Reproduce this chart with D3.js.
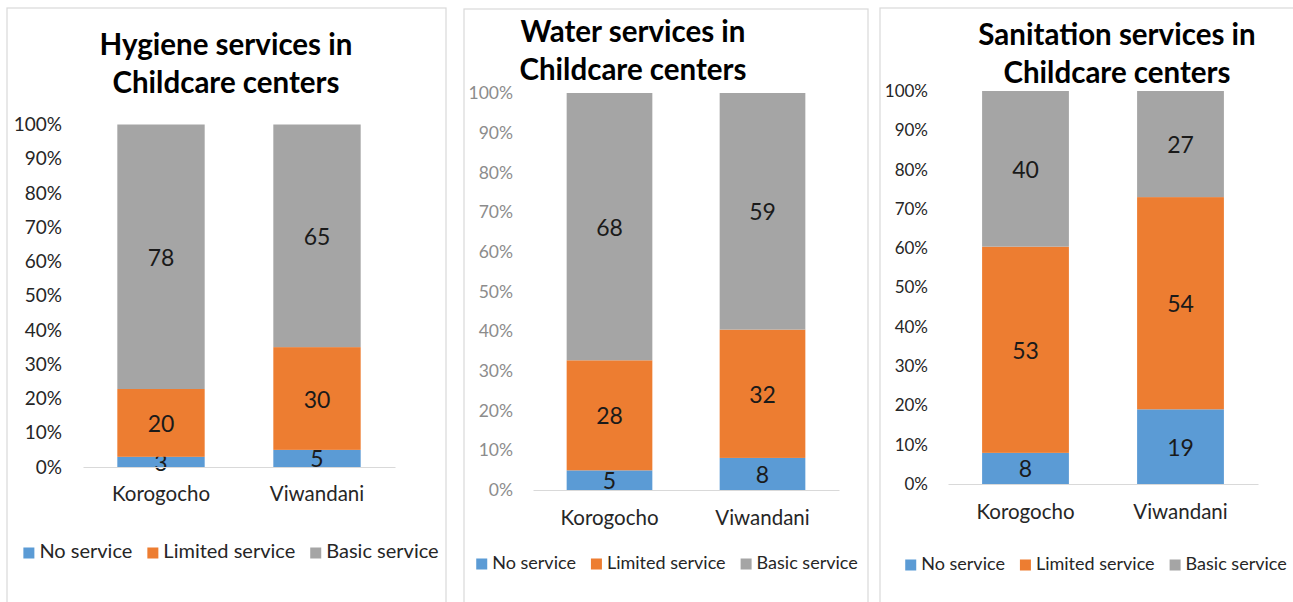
<!DOCTYPE html>
<html>
<head>
<meta charset="utf-8">
<script src="https://cdn.jsdelivr.net/npm/d3@7"></script>
<style>
  body { margin: 0; background: #fff; }
  svg { display: block; font-family: Lato, "Open Sans", sans-serif; }
</style>
</head>
<body>
<svg id="chart" width="1293" height="602"></svg>
<script>
// data
const categories = ['Korogocho', 'Viwandani']
const seriesNames = ['No service', 'Limited service', 'Basic service']
const colors = ['#5B9BD5', '#ED7D31', '#A5A5A5']
const yTicks = [0, 0.1, 0.2, 0.3, 0.4, 0.5, 0.6, 0.7, 0.8, 0.9, 1]

const hygieneNo = [3, 5]
const hygieneLimited = [20, 30]
const hygieneBasic = [78, 65]

const waterNo = [5, 8]
const waterLimited = [28, 32]
const waterBasic = [68, 59]

const sanitationNo = [8, 19]
const sanitationLimited = [53, 54]
const sanitationBasic = [40, 27]

const svg = d3.select('#chart')

// layout of each panel (frame, plot area, text sizes)
const panels = [
  { title: ['Hygiene services in', 'Childcare centers'], values: [hygieneNo, hygieneLimited, hygieneBasic],
    frame: [7, 8, 446, 640], titleX: 226, titleY: [47, 85], titleSize: 29.5,
    x0: 83, x1: 395, yTop: 124.5, yBottom: 467, tickX: 62, tickSize: 19, tickColor: '#262626',
    catY: 496, catSize: 20.5, labelSize: 23, legendY: 553, legendX: 231, legendSize: 20 },
  { title: ['Water services in', 'Childcare centers'], values: [waterNo, waterLimited, waterBasic],
    frame: [464, 9, 868, 640], titleX: 633, titleY: [34, 72], titleSize: 29.5,
    x0: 533, x1: 839, yTop: 93, yBottom: 490, tickX: 513, tickSize: 17.5, tickColor: '#8c8c8c',
    catY: 520, catSize: 20.5, labelSize: 23, legendY: 564, legendX: 667, legendSize: 18 },
  { title: ['Sanitation services in', 'Childcare centers'], values: [sanitationNo, sanitationLimited, sanitationBasic],
    frame: [880, 8, 1300, 640], titleX: 1117, titleY: [37, 75], titleSize: 29.5,
    x0: 948, x1: 1258, yTop: 91, yBottom: 484, tickX: 928, tickSize: 17, tickColor: '#262626',
    catY: 514, catSize: 20.5, labelSize: 23, legendY: 565, legendX: 1096, legendSize: 18 }
]

panels.forEach(p => {
  const g = svg.append('g')

  g.append('rect')
    .attr('x', p.frame[0]).attr('y', p.frame[1])
    .attr('width', p.frame[2] - p.frame[0]).attr('height', p.frame[3] - p.frame[1])
    .attr('fill', '#fff').attr('stroke', '#d9d9d9').attr('stroke-width', 1.2)

  g.append('text')
    .attr('text-anchor', 'middle')
    .attr('font-weight', 700)
    .attr('font-size', p.titleSize)
    .attr('fill', '#000')
    .selectAll('tspan').data(p.title).join('tspan')
    .attr('x', p.titleX)
    .attr('y', (d, i) => p.titleY[i])
    .attr('dominant-baseline', 'middle')
    .text(d => d)

  const rows = categories.map((c, i) => {
    const r = { category: c }
    seriesNames.forEach((s, k) => { r[s] = p.values[k][i] })
    return r
  })
  const stacked = d3.stack().keys(seriesNames).offset(d3.stackOffsetExpand)(rows)

  const x = d3.scaleBand().domain(categories).range([p.x0, p.x1])
    .paddingInner(0.44).paddingOuter(0.22)
  const y = d3.scaleLinear().domain([0, 1]).range([p.yBottom, p.yTop])

  // y axis: labels only
  const yAxis = g.append('g')
    .attr('transform', `translate(${p.tickX + 8},0)`)
    .call(d3.axisLeft(y).tickValues(yTicks).tickFormat(d3.format('.0%')).tickSize(0).tickPadding(8))
  yAxis.select('.domain').remove()
  yAxis.selectAll('text')
    .attr('font-family', 'Lato, sans-serif')
    .attr('font-size', p.tickSize)
    .attr('fill', p.tickColor)

  const layer = g.selectAll('.layer').data(stacked).join('g')
    .attr('fill', (d, i) => colors[i])
  layer.selectAll('rect').data(d => d).join('rect')
    .attr('x', d => x(d.data.category))
    .attr('width', x.bandwidth())
    .attr('y', d => y(d[1]))
    .attr('height', d => y(d[0]) - y(d[1]))

  // data labels show the raw counts
  layer.each(function (s, k) {
    d3.select(this).selectAll('text').data(s).join('text')
      .attr('x', d => x(d.data.category) + x.bandwidth() / 2)
      .attr('y', d => (y(d[0]) + y(d[1])) / 2)
      .attr('text-anchor', 'middle')
      .attr('dominant-baseline', 'central')
      .attr('font-size', p.labelSize)
      .attr('fill', '#1a1a1a')
      .text(d => d.data[s.key])
  })

  // x axis
  const xAxis = g.append('g')
    .attr('transform', `translate(0,${p.yBottom})`)
    .call(d3.axisBottom(x).tickSize(0).tickPadding(0))
  xAxis.select('.domain').attr('stroke', '#d9d9d9').attr('stroke-width', 1.2)
  xAxis.selectAll('text')
    .attr('y', p.catY - p.yBottom)
    .attr('dy', null)
    .attr('dominant-baseline', 'middle')
    .attr('font-family', 'Lato, sans-serif')
    .attr('font-size', p.catSize)
    .attr('fill', '#262626')

  // legend, laid out from text widths and centred
  const legend = g.append('g')
  const items = legend.selectAll('g').data(seriesNames).join('g')
  items.append('rect')
    .attr('width', 11).attr('height', 11)
    .attr('y', -5.5)
    .attr('fill', (d, i) => colors[i])
  items.append('text')
    .attr('x', 16)
    .attr('dominant-baseline', 'middle')
    .attr('font-size', p.legendSize)
    .attr('fill', '#262626')
    .text(d => d)
  let cursor = 0
  items.each(function () {
    const w = 16 + this.querySelector('text').getComputedTextLength()
    d3.select(this).attr('transform', `translate(${cursor},0)`)
    cursor += w + 15
  })
  cursor -= 15
  legend.attr('transform', `translate(${p.legendX - cursor / 2},${p.legendY})`)
})
</script>
</body>
</html>
